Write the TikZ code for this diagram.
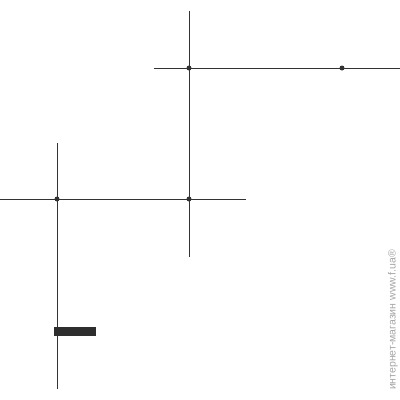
\documentclass[tikz,border=0pt]{standalone}
\usepackage{fontspec}
\setmainfont{Liberation Sans}
\begin{document}
\begin{tikzpicture}[x=1pt,y=-1pt,
  ln/.style={draw=black!80,line width=0.9pt},
  dotn/.style={circle,fill=black!80,inner sep=0pt,minimum size=5pt},
  wm/.style={text=black!35,font=\fontsize{10.5}{12}\selectfont,rotate=90,inner sep=0pt}]
\useasboundingbox (0,0) rectangle (400,400);
\coordinate (v1t) at (189,11); \coordinate (v1b) at (189,257);
\coordinate (h1l) at (154,68); \coordinate (h1r) at (400,68);
\coordinate (v2t) at (57,143); \coordinate (v2b) at (57,389);
\coordinate (h2l) at (0,199); \coordinate (h2r) at (246,199);
\draw[ln] (v1t) -- (v1b);
\draw[ln] (h1l) -- (h1r);
\draw[ln] (v2t) -- (v2b);
\draw[ln] (h2l) -- (h2r);
\node[dotn] (d1) at (189,68) {};
\node[dotn] (d2) at (342,68) {};
\node[dotn] (d3) at (57,199) {};
\node[dotn] (d4) at (189,199) {};
\fill[black!82] (54,327) rectangle (96,336);
\node[wm] (w) at (393,320) {интернет-магазин www.f.ua®};
\end{tikzpicture}
\end{document}
